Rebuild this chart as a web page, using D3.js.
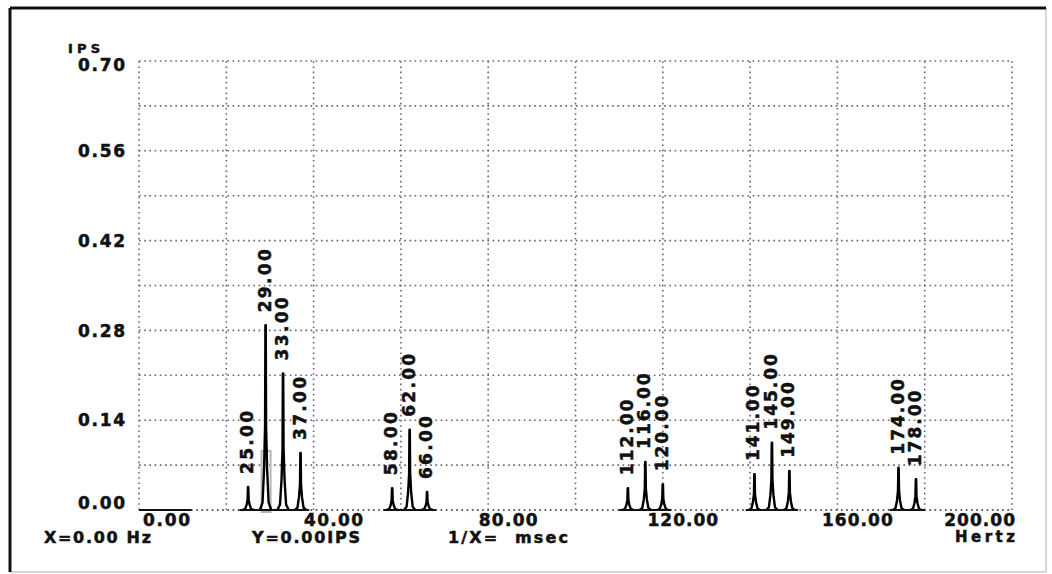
<!DOCTYPE html>
<html>
  <head>
    <meta charset="utf-8">
    <title>Spectrum IPS vs Hertz</title>
    <script src="https://d3js.org/d3.v7.min.js"></script>
    <style>
      body { margin: 0; background: white; }
      text { font-family: "DejaVu Sans", sans-serif; font-weight: bold; fill: #111; stroke: #111; stroke-width: 0.5px; }
      .grid line { stroke: #6b6078; stroke-width: 1.6; stroke-dasharray: 1.6 3.6; }
      .peak { fill: none; stroke: #000; stroke-width: 2.4; stroke-linejoin: round; }
    </style>
  </head>
  <body>
    <svg id="chart" width="1052" height="574"></svg>
    <script>
      // spectrum peaks
      const freqs = [25, 29, 33, 37, 58, 62, 66, 112, 116, 120, 141, 145, 149, 174, 178];
      const amps = [0.036, 0.288, 0.213, 0.089, 0.034, 0.125, 0.028, 0.034, 0.075, 0.040, 0.056, 0.105, 0.061, 0.066, 0.048];
      const xTicks = [0, 40, 80, 120, 160, 200];
      const yTicks = [0, 0.14, 0.28, 0.42, 0.56, 0.70];
      const cursorFreq = 29, cursorAmp = 0.092;

      const svg = d3.select("#chart");
      const x = d3.scaleLinear().domain([0, 200]).range([139, 1012]);
      const y = d3.scaleLinear().domain([0, 0.70]).range([510, 61]);

      // frame
      svg.append("line").attr("x1", 1046).attr("x2", 1046).attr("y1", 8).attr("y2", 572)
        .attr("stroke", "#c8c8c8").attr("stroke-width", 1.5);
      svg.append("line").attr("x1", 10).attr("x2", 1046).attr("y1", 572).attr("y2", 572)
        .attr("stroke", "#c8c8c8").attr("stroke-width", 1.5);
      svg.append("line").attr("x1", 10).attr("x2", 1046).attr("y1", 8).attr("y2", 8)
        .attr("stroke", "#111").attr("stroke-width", 3);
      svg.append("line").attr("x1", 10).attr("x2", 10).attr("y1", 8).attr("y2", 572)
        .attr("stroke", "#111").attr("stroke-width", 3);

      // grid
      const grid = svg.append("g").classed("grid", true);
      grid.selectAll(".h")
        .data(d3.range(0, 11).map(function(i) { return i * 0.07; }))
        .enter().append("line")
          .attr("x1", x(0)).attr("x2", x(200))
          .attr("y1", function(d) { return y(d); })
          .attr("y2", function(d) { return y(d); })
          .style("stroke", function(d) { return d === 0 ? "#222" : null; });
      grid.selectAll(".v")
        .data(d3.range(0, 201, 20))
        .enter().append("line")
          .attr("y1", y(0)).attr("y2", y(0.70))
          .attr("x1", function(d) { return x(d); })
          .attr("x2", function(d) { return x(d); });

      // y labels
      svg.append("text").attr("x", 68).attr("y", 53).style("font-size", "13px")
        .attr("textLength", 32).text("IPS");
      svg.selectAll(".ytick")
        .data(yTicks)
        .enter().append("text")
          .attr("x", 125)
          .attr("y", function(d) { return Math.max(Math.min(y(d), y(0) - 7), y(0.70) + 4); })
          .attr("dy", "0.36em")
          .attr("text-anchor", "end")
          .style("font-size", "17px")
          .attr("textLength", 47)
          .text(function(d) { return d3.format(".2f")(d); });

      // x labels
      svg.selectAll(".xtick")
        .data(xTicks)
        .enter().append("text")
          .attr("x", function(d) { return d === 0 ? x(d) + 4 : d === 200 ? x(d) + 3 : x(d) + 20; })
          .attr("y", 526)
          .attr("text-anchor", function(d) { return d === 0 ? "start" : d === 200 ? "end" : "middle"; })
          .style("font-size", "17px")
          .attr("textLength", function(d) { return d3.format(".2f")(d).length * 11.8; })
          .text(function(d) { return d3.format(".2f")(d); });

      // status line
      svg.append("text").attr("x", 44).attr("y", 543).style("font-size", "16px")
        .attr("textLength", 107).text("X=0.00 Hz");
      svg.append("text").attr("x", 252).attr("y", 543).style("font-size", "16px")
        .attr("textLength", 108).text("Y=0.00IPS");
      svg.append("text").attr("x", 448).attr("y", 543).style("font-size", "16px")
        .attr("textLength", 120).attr("xml:space", "preserve").text("1/X=  msec");
      svg.append("text").attr("x", 1015).attr("y", 542).attr("text-anchor", "end")
        .style("font-size", "15px").attr("textLength", 60).text("Hertz");

      // cursor box
      svg.append("rect")
        .attr("x", x(cursorFreq) - 4).attr("width", 9)
        .attr("y", y(cursorAmp)).attr("height", y(0) - y(cursorAmp) + 2)
        .attr("fill", "none").attr("stroke", "#b5b5b5").attr("stroke-width", 2);

      // peaks
      const shape = [[-1.3, 0], [-0.7, 0.04], [-0.35, 0.22], [-0.12, 0.45], [-0.04, 1], [0.04, 1], [0.12, 0.45], [0.35, 0.22], [0.7, 0.04], [1.3, 0]];
      const line = d3.line()
        .x(function(p) { return x(p[0]); })
        .y(function(p) { return y(p[1]); });
      const peaks = freqs.map(function(f, i) { return { f: f, a: amps[i] }; });
      svg.selectAll(".peak")
        .data(peaks)
        .enter().append("path")
          .classed("peak", true)
          .attr("d", function(d) {
            return line(shape.map(function(s) { return [d.f + s[0], d.a * s[1]]; }));
          });
      // solid zero-level line around clusters
      [[0, 12], [23, 39], [56, 68], [110, 122], [139, 151], [172, 180]].forEach(function(r) {
        svg.append("line").attr("x1", x(r[0])).attr("x2", x(r[1]))
          .attr("y1", y(0)).attr("y2", y(0)).attr("stroke", "#111").attr("stroke-width", 2);
      });

      // peak labels
      svg.selectAll(".plabel")
        .data(peaks)
        .enter().append("text")
          .attr("transform", function(d) { return "translate(" + (x(d.f) + 5) + "," + (y(d.a) - 13) + ") rotate(-90)"; })
          .style("font-size", "17px")
          .attr("textLength", function(d) { return d3.format(".2f")(d.f).length * 12.6; })
          .text(function(d) { return d3.format(".2f")(d.f); });
    </script>
  </body>
</html>
